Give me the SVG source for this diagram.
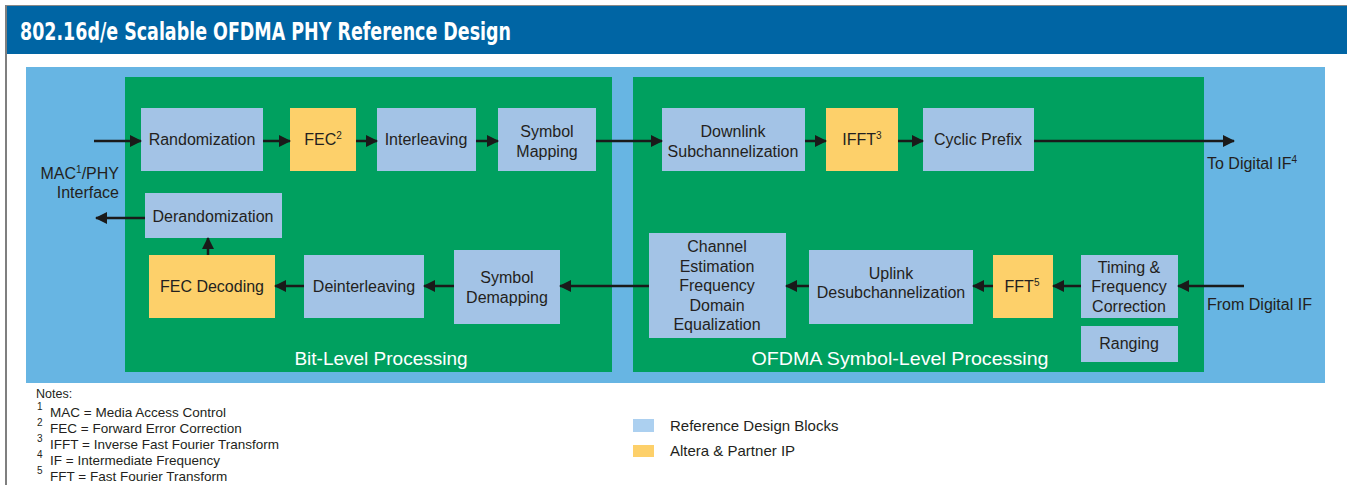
<svg xmlns="http://www.w3.org/2000/svg" width="1347" height="485" viewBox="0 0 1347 485">
<defs>
<style>
.t{font-family:"Liberation Sans",Arial,sans-serif;font-size:16px;fill:#231f20;text-anchor:middle}
.w{font-family:"Liberation Sans",Arial,sans-serif;font-size:19px;fill:#ffffff;text-anchor:middle}
.n{font-family:"Liberation Sans",Arial,sans-serif;font-size:13.5px;fill:#231f20}
.s{font-family:"Liberation Sans",Arial,sans-serif;font-size:10px;fill:#231f20}
.lg{font-family:"Liberation Sans",Arial,sans-serif;font-size:15px;fill:#231f20}
.b{fill:#a3c3e6}
.y{fill:#fdd06a}
.g{fill:#00a05f}
.c line{stroke:#1a1a1a;stroke-width:2.5;marker-end:url(#ah)}
</style>
<marker id="ah" markerWidth="12" markerHeight="12" refX="11" refY="6" orient="auto" markerUnits="userSpaceOnUse">
<path d="M0,0 L12,6 L0,12 z" fill="#1a1a1a"/>
</marker>
</defs>
<rect x="0" y="0" width="1347" height="485" fill="#ffffff"/>
<line x1="6" y1="5" x2="6" y2="485" stroke="#555" stroke-width="1.5"/>
<line x1="6" y1="5.5" x2="1347" y2="5.5" stroke="#888" stroke-width="1"/>
<rect id="titlebar" x="7" y="6" width="1340" height="48" fill="#0065a4"/>
<text x="20" y="40" font-family="'DejaVu Sans Condensed','Liberation Sans',sans-serif" font-weight="bold" font-size="25" fill="#ffffff" textLength="491" lengthAdjust="spacingAndGlyphs">802.16d/e Scalable OFDMA PHY Reference Design</text>
<rect id="bg" x="26" y="67" width="1299" height="316" fill="#67b5e3"/>
<g id="bit-level">
<rect class="g" x="125" y="77" width="487" height="295"/>
<text class="w" x="381" y="365">Bit-Level Processing</text>
</g>
<g id="symbol-level">
<rect class="g" x="633" y="77" width="571" height="295"/>
<text class="w" x="900" y="365" textLength="297" lengthAdjust="spacingAndGlyphs">OFDMA Symbol-Level Processing</text>
</g>
<g id="randomization"><rect class="b" x="141" y="108" width="122" height="63"/><text class="t" x="202" y="145">Randomization</text></g>
<g id="fec"><rect class="y" x="290" y="108" width="66" height="63"/><text class="t" x="323" y="145">FEC<tspan font-size="10" dy="-6">2</tspan></text></g>
<g id="interleaving"><rect class="b" x="377" y="108" width="99" height="63"/><text class="t" x="426" y="145">Interleaving</text></g>
<g id="symbol-mapping"><rect class="b" x="498" y="108" width="98" height="63"/><text class="t" x="547" y="137">Symbol</text><text class="t" x="547" y="157">Mapping</text></g>
<g id="derandomization"><rect class="b" x="145" y="193" width="137" height="45"/><text class="t" x="213" y="222">Derandomization</text></g>
<g id="fec-decoding"><rect class="y" x="149" y="255" width="126" height="63"/><text class="t" x="212" y="292">FEC Decoding</text></g>
<g id="deinterleaving"><rect class="b" x="304" y="255" width="120" height="63"/><text class="t" x="364" y="292">Deinterleaving</text></g>
<g id="symbol-demapping"><rect class="b" x="454" y="250" width="106" height="74"/><text class="t" x="507" y="283">Symbol</text><text class="t" x="507" y="303">Demapping</text></g>
<g id="downlink"><rect class="b" x="662" y="108" width="143" height="63"/><text class="t" x="733" y="137">Downlink</text><text class="t" x="733" y="157">Subchannelization</text></g>
<g id="ifft"><rect class="y" x="826" y="108" width="72" height="63"/><text class="t" x="862" y="145">IFFT<tspan font-size="10" dy="-6">3</tspan></text></g>
<g id="cyclic-prefix"><rect class="b" x="923" y="108" width="111" height="63"/><text class="t" x="978" y="145">Cyclic Prefix</text></g>
<g id="channel-estimation"><rect class="b" x="649" y="233" width="137" height="105"/>
<text class="t" x="717" y="252">Channel</text><text class="t" x="717" y="272">Estimation</text><text class="t" x="717" y="291">Frequency</text><text class="t" x="717" y="311">Domain</text><text class="t" x="717" y="330">Equalization</text></g>
<g id="uplink"><rect class="b" x="809" y="250" width="164" height="74"/><text class="t" x="891" y="279">Uplink</text><text class="t" x="891" y="298">Desubchannelization</text></g>
<g id="fft"><rect class="y" x="993" y="255" width="60" height="63"/><text class="t" x="1022" y="292">FFT<tspan font-size="10" dy="-6">5</tspan></text></g>
<g id="timing"><rect class="b" x="1081" y="255" width="97" height="63"/><text class="t" x="1129" y="273">Timing &amp;</text><text class="t" x="1129" y="292">Frequency</text><text class="t" x="1129" y="312">Correction</text></g>
<g id="ranging"><rect class="b" x="1081" y="326" width="97" height="36"/><text class="t" x="1129" y="349">Ranging</text></g>
<g id="io-labels">
<text class="t" x="119" y="179" style="text-anchor:end">MAC<tspan font-size="10" dy="-6">1</tspan><tspan dy="6">/PHY</tspan></text>
<text class="t" x="119" y="198" style="text-anchor:end">Interface</text>
<text class="t" x="1207" y="169" style="text-anchor:start">To Digital IF<tspan font-size="10" dy="-6">4</tspan></text>
<text class="t" x="1207" y="310" style="text-anchor:start">From Digital IF</text>
</g>
<g id="connectors" class="c">
<line x1="94" y1="141" x2="141" y2="141"/>
<line x1="263" y1="141" x2="290" y2="141"/>
<line x1="356" y1="141" x2="377" y2="141"/>
<line x1="476" y1="141" x2="498" y2="141"/>
<line x1="596" y1="141" x2="662" y2="141"/>
<line x1="805" y1="141" x2="826" y2="141"/>
<line x1="898" y1="141" x2="923" y2="141"/>
<line x1="1034" y1="141" x2="1234" y2="141"/>
<line x1="1244" y1="286" x2="1178" y2="286"/>
<line x1="1081" y1="286" x2="1053" y2="286"/>
<line x1="993" y1="286" x2="973" y2="286"/>
<line x1="809" y1="286" x2="786" y2="286"/>
<line x1="649" y1="286" x2="560" y2="286"/>
<line x1="454" y1="286" x2="424" y2="286"/>
<line x1="304" y1="286" x2="275" y2="286"/>
<line x1="208" y1="255" x2="208" y2="238"/>
<line x1="145" y1="218" x2="96" y2="218"/>
</g>
<g id="notes">
<text class="n" x="36" y="398" style="font-size:12.5px">Notes:</text>
<text class="s" x="37" y="410">1</text><text class="n" x="50" y="417">MAC = Media Access Control</text>
<text class="s" x="37" y="426">2</text><text class="n" x="50" y="433">FEC = Forward Error Correction</text>
<text class="s" x="37" y="442">3</text><text class="n" x="50" y="449">IFFT = Inverse Fast Fourier Transform</text>
<text class="s" x="37" y="458">4</text><text class="n" x="50" y="465">IF = Intermediate Frequency</text>
<text class="s" x="37" y="474">5</text><text class="n" x="50" y="481">FFT = Fast Fourier Transform</text>
</g>
<g id="legend">
<rect x="633" y="419" width="21" height="13" fill="#acd0f0"/>
<text class="lg" x="670" y="431">Reference Design Blocks</text>
<rect x="633" y="445" width="21" height="12" fill="#fdd06a"/>
<text class="lg" x="670" y="456">Altera &amp; Partner IP</text>
</g>
</svg>
